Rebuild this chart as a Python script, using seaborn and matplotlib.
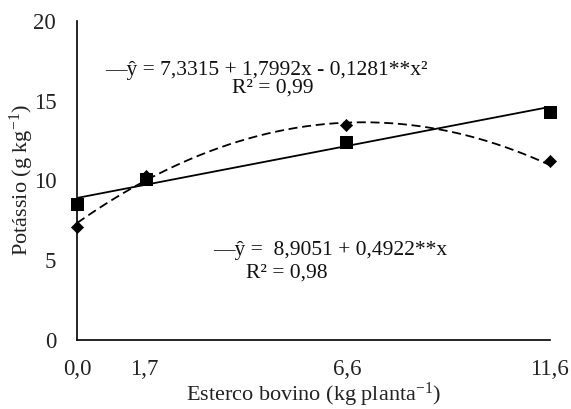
import numpy as np
import pandas as pd
import matplotlib
matplotlib.use("Agg")
import matplotlib.pyplot as plt
import seaborn as sns

# Doses of cattle manure and measured potassium
dose = [0.0, 1.7, 6.6, 11.6]
dose_labels = ["0,0", "1,7", "", "", "6,6", "", "", "11,6"]
potassio_quad = [7.1, 10.3, 13.5, 11.2]   # diamonds, quadratic fit
potassio_lin = [8.5, 10.1, 12.4, 14.3]    # squares, linear fit

# Regression coefficients
quad_coef = [7.3315, 1.7992, -0.1281]
lin_coef = [8.9051, 0.4922]

sns.set_theme(style="white")
plt.rcParams["font.family"] = ["Liberation Serif", "DejaVu Serif"]
plt.rcParams["mathtext.fontset"] = "custom"
plt.rcParams["mathtext.rm"] = "Liberation Serif"
plt.rcParams["mathtext.it"] = "Liberation Serif:italic"

fig = plt.figure(figsize=(5.71, 4.09), dpi=100)
ax = fig.add_axes([0.1349, 0.1687, 0.8281, 0.78])

xs = np.linspace(0, 11.6, 200)
curves = pd.DataFrame({
    "x": xs,
    "quad": quad_coef[0] + quad_coef[1] * xs + quad_coef[2] * xs ** 2,
    "lin": lin_coef[0] + lin_coef[1] * xs,
})
sns.lineplot(data=curves, x="x", y="quad", ax=ax, color="black", lw=1.3,
             dashes=False, linestyle=(0, (5, 2.6)))
sns.lineplot(data=curves, x="x", y="lin", ax=ax, color="black", lw=1.3)

pts = pd.DataFrame({"dose": dose, "q": potassio_quad, "l": potassio_lin})
sns.scatterplot(data=pts, x="dose", y="q", ax=ax, marker="D", s=38,
                color="black", edgecolor="black", zorder=5)
sns.scatterplot(data=pts, x="dose", y="l", ax=ax, marker="s", s=85,
                color="black", edgecolor="black", zorder=5)

ax.set_xlim(0, 11.6)
ax.set_ylim(0, 20)
ax.set_xticks(np.linspace(0, 11.6, 8))
ax.set_xticklabels(dose_labels)
ax.set_yticks([0, 5, 10, 15, 20])
ax.set_yticklabels(["0", "5", "10", "15", "20"])
for s in ["top", "right"]:
    ax.spines[s].set_visible(False)
for s in ["left", "bottom"]:
    ax.spines[s].set_color("black")
    ax.spines[s].set_linewidth(1.2)
ax.tick_params(axis="both", direction="out", length=5, width=1.2,
               color="black", labelsize=16.5, labelcolor="#222222")
ax.tick_params(axis="x", pad=8.5)
ax.tick_params(axis="y", pad=10)
for coll in ax.collections:
    coll.set_clip_on(False)

ax.set_xlabel("Esterco bovino (kg planta$^{-1}$)", fontsize=16,
              color="#222222", labelpad=1)
ax.set_ylabel("Potássio (g kg$^{-1}$)", fontsize=16, color="#222222",
              labelpad=-1.5)

eq_kw = dict(fontsize=15.5, color="#111111", transform=fig.transFigure,
             va="center", ha="left")
fig.text(105 / 571, 1 - 70 / 409,
         "\u2014\u0177 = 7,3315 + 1,7992x - 0,1281**x\u00b2", **eq_kw)
fig.text(232 / 571, 1 - 88 / 409, "R\u00b2 = 0,99", **eq_kw)
fig.text(213 / 571, 1 - 251 / 409, "\u2014\u0177 =  8,9051 + 0,4922**x", **eq_kw)
fig.text(246 / 571, 1 - 273 / 409, "R\u00b2 = 0,98", **eq_kw)

fig.savefig("out.png", dpi=100)
